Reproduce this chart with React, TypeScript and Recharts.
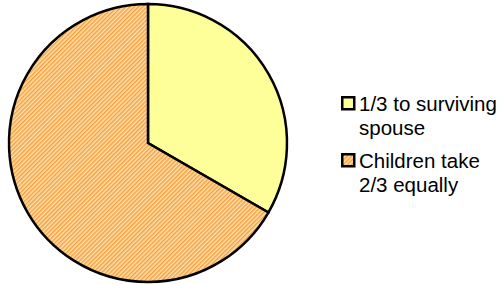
import { PieChart, Pie, Cell, Legend } from 'recharts';

const shareNames = ['1/3 to surviving spouse', 'Children take 2/3 equally'];
const shareLines = [
  ['1/3 to surviving', 'spouse'],
  ['Children take', '2/3 equally'],
];
const shareValues = [1, 2];

const data = shareNames.map((name, i) => ({ name, value: shareValues[i] }));

const fills = ['#FFFF99', 'url(#hatch)'];

function HatchDefs() {
  return (
    <defs>
      <pattern
        id="hatch"
        width="3"
        height="3"
        patternUnits="userSpaceOnUse"
        patternTransform="rotate(45)"
      >
        <rect width="3" height="3" fill="#FFE2B0" />
        <rect width="1.5" height="3" fill="#F5A040" />
      </pattern>
    </defs>
  );
}

function ShareLegend() {
  return (
    <div style={{ position: 'absolute', left: 341, top: 92 }}>
      {shareLines.map((lines, i) => (
        <div
          key={i}
          style={{ position: 'relative', marginBottom: i === 0 ? 9 : 0 }}
        >
          <svg
            width={15}
            height={15}
            style={{ position: 'absolute', left: 0, top: 4 }}
          >
            <HatchDefs />
            <rect
              x={1.25}
              y={1.25}
              width={12}
              height={12}
              fill={fills[i]}
              stroke="#000"
              strokeWidth={2.5}
            />
          </svg>
          <div
            style={{
              marginLeft: 18,
              fontFamily: '"Liberation Sans", Arial, sans-serif',
              fontSize: 20.5,
              lineHeight: '24px',
              color: '#000',
              whiteSpace: 'nowrap',
            }}
          >
            {lines.map((l) => (
              <div key={l}>{l}</div>
            ))}
          </div>
        </div>
      ))}
    </div>
  );
}

export default function App() {
  return (
    <div style={{ position: 'relative', width: 504, height: 284, background: '#fff' }}>
      <style>{'body{margin:0}'}</style>
      <PieChart width={504} height={284} margin={{ top: 0, right: 0, bottom: 0, left: 0 }}>
        <HatchDefs />
        <Pie
          data={data}
          dataKey="value"
          nameKey="name"
          cx={148}
          cy={143}
          outerRadius={139}
          startAngle={90}
          endAngle={-270}
          stroke="#000"
          strokeWidth={2.5}
          isAnimationActive={false}
        >
          {data.map((d, i) => (
            <Cell key={d.name} fill={fills[i]} />
          ))}
        </Pie>
        <Legend content={() => null} />
      </PieChart>
      <ShareLegend />
    </div>
  );
}
